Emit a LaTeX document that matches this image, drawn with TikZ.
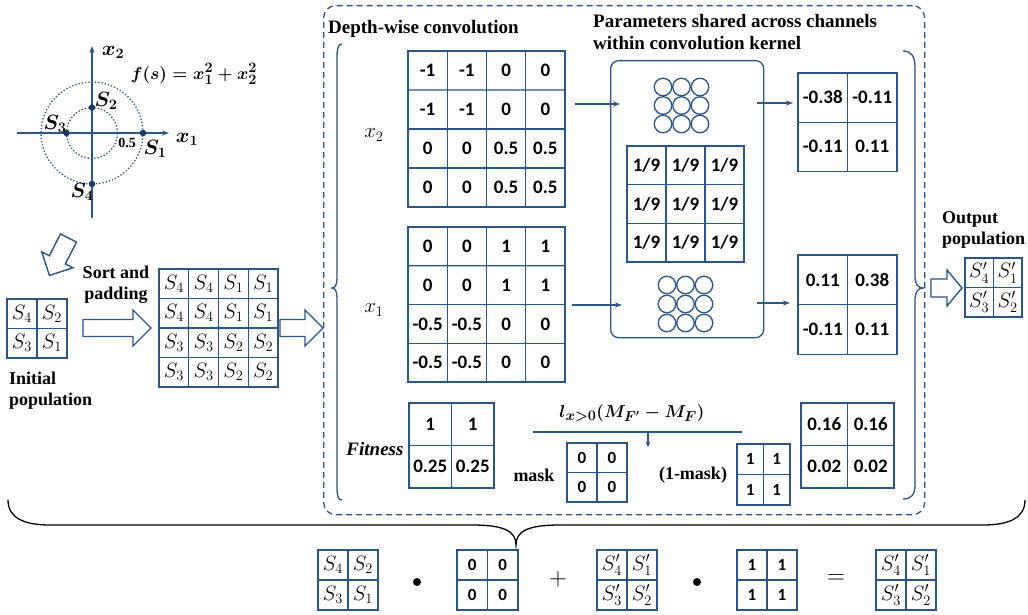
\documentclass[tikz,border=0pt]{standalone}
\usepackage{fontspec}
\setmainfont{Liberation Serif}
\newfontfamily\numfont{Carlito}
\usetikzlibrary{arrows.meta,matrix,calc}
\definecolor{bl}{RGB}{46,84,130}
\definecolor{dotc}{RGB}{31,56,100}
\newcommand\blockarrow[7]{% x, y, angle, length, shaft half, head half, head len
  \begin{scope}[shift={(#1,#2)}, rotate=#3]
    \draw[bl, line width=1.4pt, line join=miter, fill=white]
      (0,-#5) -- (#4-#7,-#5) -- (#4-#7,-#6) -- (#4,0) -- (#4-#7,#6) -- (#4-#7,#5) -- (0,#5) -- cycle;
  \end{scope}}
\newcommand\gridlines[3]{%
  \draw[bline] (#1.north west) rectangle (#1.south east);
  \foreach \c in {2,...,#3} {\draw[bline] (#1-1-\c.north west) -- (#1-#2-\c.south west);}
  \foreach \r in {2,...,#2} {\draw[bline] (#1-\r-1.north west) -- (#1-\r-#3.north east);}
}
\begin{document}
\begin{tikzpicture}[x=1pt,y=-1pt,
  bline/.style={draw=bl, line width=1.3pt},
  arr/.style={bl, line width=1.2pt, -{Stealth[length=7pt,width=5pt]}},
  grid/.style={matrix of nodes, ampersand replacement=\&, anchor=north west,
     inner sep=0pt, outer sep=0pt, column sep=0pt, row sep=0pt,
     nodes={inner sep=0pt, outer sep=0pt}},
  numL/.style={font=\numfont\bfseries\fontsize{19}{19}\selectfont},
  numS/.style={font=\numfont\bfseries\fontsize{17}{17}\selectfont},
  mth/.style={font=\fontsize{21}{21}\selectfont},
  lab/.style={font=\bfseries\fontsize{18}{21}\selectfont, inner sep=0pt},
  title/.style={font=\bfseries\fontsize{19}{22}\selectfont, inner sep=0pt},
  dotn/.style={circle, fill=dotc, inner sep=0pt, minimum size=6.5pt},
  blab/.style={font=\fontsize{21}{21}\selectfont\boldmath, inner sep=0pt},
]
\fill[white] (0,0) rectangle (1028,615);
\useasboundingbox (0,0) rectangle (1028,615);

% ---------- circle diagram ----------
\coordinate (o) at (92,133);
\coordinate (xs) at (17,133);
\coordinate (xe) at (169,133);
\coordinate (ys) at (92,218);
\coordinate (ye) at (92,46);
\draw[arr] (xs) -- (xe);
\draw[arr] (ys) -- (ye);
\draw[bl, line width=1.3pt, dotted] (o) circle[radius=51pt];
\draw[bl, line width=1.3pt, dotted] (o) circle[radius=25.5pt];
\node[dotn] (s1) at (143,133) {};
\node[dotn] (s2) at (92,107.5) {};
\node[dotn] (s3) at (66.5,133) {};
\node[dotn] (s4) at (92,184) {};
\node[blab] (lx2) at (113,52) {$x_2$};
\node[blab] (lx1) at (187,139) {$x_1$};
\node[font=\fontsize{19}{19}\selectfont\boldmath, inner sep=0pt] (lf) at (194,74) {$f(s)=x_1^2+x_2^2$};
\node[blab] (ls2) at (106,101) {$S_2$};
\node[blab] (ls3) at (55,124) {$S_3$};
\node[blab] (ls1) at (155,149) {$S_1$};
\node[blab] (ls4) at (82,192) {$S_4$};
\node[font=\bfseries\fontsize{14}{14}\selectfont, inner sep=0pt] (l05) at (127,143) {0.5};

% ---------- left part ----------
\blockarrow{68.5}{238}{243}{42}{9}{17.5}{17.5}
\matrix (init) [grid, nodes={minimum width=30pt, minimum height=29.5pt, mth}] at (7,299)
 {$S_4$ \& $S_2$ \\ $S_3$ \& $S_1$ \\};
\gridlines{init}{2}{2}
\node[lab, align=left, anchor=west] (linit) at (9,391) {Initial\\population};
\node[lab, align=center] (lsort) at (116,285) {Sort and\\padding};
\blockarrow{83}{328}{0}{68}{8.5}{18}{18}
\matrix (pad) [grid, nodes={minimum width=29.75pt, minimum height=29.5pt, mth}] at (159,269)
 {$S_4$ \& $S_4$ \& $S_1$ \& $S_1$ \\
  $S_4$ \& $S_4$ \& $S_1$ \& $S_1$ \\
  $S_3$ \& $S_3$ \& $S_2$ \& $S_2$ \\
  $S_3$ \& $S_3$ \& $S_2$ \& $S_2$ \\};
\gridlines{pad}{4}{4}
\blockarrow{280}{328}{0}{43}{8.5}{18}{18}

% ---------- dashed box ----------
\node[draw=bl, line width=1.3pt, dash pattern=on 6pt off 4pt, rounded corners=12pt,
      minimum width=601pt, minimum height=509pt, anchor=north west, inner sep=0pt] (dbox) at (323,5) {};
\node[title, anchor=west] (tdepth) at (328,29) {Depth-wise convolution};
\node[title, anchor=west, align=left] (tparam) at (593,32) {Parameters shared across channels\\within convolution kernel};

% braces
\draw[bline] (342,44) .. controls (338,44) and (337,49) .. (337,58) -- (337,278)
  .. controls (337,285) and (335,288) .. (332,288)
  .. controls (335,288) and (337,291) .. (337,298) -- (337,487)
  .. controls (337,496) and (338,500) .. (342,500);
\draw[bline] (903,51) .. controls (911,51) and (915,56) .. (915,67) -- (915,276)
  .. controls (915,284) and (918,288) .. (923,288)
  .. controls (918,288) and (915,292) .. (915,300) -- (915,485)
  .. controls (915,495) and (911,499) .. (903,499);

% matrices x2, x1
\node[font=\fontsize{22}{22}\selectfont, inner sep=0pt] (lmx2) at (374,135) {$x_2$};
\node[font=\fontsize{22}{22}\selectfont, inner sep=0pt] (lmx1) at (374,310) {$x_1$};
\matrix (x2m) [grid, nodes={minimum width=39.25pt, minimum height=39pt, numL}] at (408,51)
 {-1 \& -1 \& 0 \& 0 \\ -1 \& -1 \& 0 \& 0 \\ 0 \& 0 \& 0.5 \& 0.5 \\ 0 \& 0 \& 0.5 \& 0.5 \\};
\gridlines{x2m}{4}{4}
\matrix (x1m) [grid, nodes={minimum width=39.25pt, minimum height=38.75pt, numL}] at (408,227)
 {0 \& 0 \& 1 \& 1 \\ 0 \& 0 \& 1 \& 1 \\ -0.5 \& -0.5 \& 0 \& 0 \\ -0.5 \& -0.5 \& 0 \& 0 \\};
\gridlines{x1m}{4}{4}

% kernel box
\node[draw=bl, line width=1.3pt, rounded corners=8pt, minimum width=153pt, minimum height=277pt,
      anchor=north west, inner sep=0pt] (kbox) at (610,60) {};
\foreach \i in {0,1,2} \foreach \j in {0,1,2} {
  \node[circle, draw=bl, line width=1.3pt, minimum size=17.5pt, inner sep=0pt] (ct\i\j) at (663+18.5*\i,87+18.5*\j) {};
  \node[circle, draw=bl, line width=1.3pt, minimum size=17.5pt, inner sep=0pt] (cb\i\j) at (667+18.5*\i,285+19*\j) {};
}
\matrix (kern) [grid, nodes={minimum width=39pt, minimum height=38.7pt, numL}] at (627,146)
 {1/9 \& 1/9 \& 1/9 \\ 1/9 \& 1/9 \& 1/9 \\ 1/9 \& 1/9 \& 1/9 \\};
\gridlines{kern}{3}{3}

\coordinate (a1s) at (575,104); \coordinate (a1e) at (620,104);
\coordinate (a2s) at (572,305); \coordinate (a2e) at (622,305);
\coordinate (a3s) at (757,103); \coordinate (a3e) at (793,103);
\coordinate (a4s) at (757,303); \coordinate (a4e) at (790,303);
\draw[arr] (a1s) -- (a1e);
\draw[arr] (a2s) -- (a2e);
\draw[arr] (a3s) -- (a3e);
\draw[arr] (a4s) -- (a4e);

\matrix (outA) [grid, nodes={minimum width=49.5pt, minimum height=49pt, numL}] at (798,73)
 {-0.38 \& -0.11 \\ -0.11 \& 0.11 \\};
\gridlines{outA}{2}{2}
\matrix (outB) [grid, nodes={minimum width=49.5pt, minimum height=49.5pt, numL}] at (798,255)
 {0.11 \& 0.38 \\ -0.11 \& 0.11 \\};
\gridlines{outB}{2}{2}

% fitness row
\node[font=\bfseries\itshape\fontsize{19}{19}\selectfont, inner sep=0pt] (lfit) at (375,449) {Fitness};
\matrix (fit) [grid, nodes={minimum width=42.5pt, minimum height=42.5pt, numL}] at (409,403)
 {1 \& 1 \\ 0.25 \& 0.25 \\};
\gridlines{fit}{2}{2}
\node[font=\fontsize{19}{19}\selectfont\boldmath, inner sep=0pt] (lform) at (632,413) {$l_{x>0}(M_{F'}-M_F)$};
\coordinate (fl1) at (533,432); \coordinate (fl2) at (742,432);
\draw[bl, line width=1.3pt] (fl1) -- (fl2);
\coordinate (fa1) at (648,432); \coordinate (fa2) at (648,447);
\draw[bl, line width=1.2pt, -{Stealth[length=5pt,width=4.5pt]}] (fa1) -- (fa2);
\node[lab] (lmask) at (534,475) {mask};
\matrix (mask) [grid, nodes={minimum width=30pt, minimum height=29.5pt, numS}] at (567,443)
 {0 \& 0 \\ 0 \& 0 \\};
\gridlines{mask}{2}{2}
\node[lab] (linv) at (693,475) {(1-mask)};
\matrix (inv) [grid, nodes={minimum width=26.5pt, minimum height=30.5pt, numS}] at (737,444)
 {1 \& 1 \\ 1 \& 1 \\};
\gridlines{inv}{2}{2}
\matrix (res) [grid, nodes={minimum width=46.5pt, minimum height=42.5pt, numL}] at (801,403)
 {0.16 \& 0.16 \\ 0.02 \& 0.02 \\};
\gridlines{res}{2}{2}

% output population
\blockarrow{931}{288}{0}{31}{9}{18}{15}
\node[lab, align=left, anchor=west] (lout) at (942,230) {Output\\population};
\matrix (outp) [grid, nodes={minimum width=28.5pt, minimum height=29.5pt, mth}] at (965,258)
 {$S'_4$ \& $S'_1$ \\ $S'_3$ \& $S'_2$ \\};
\gridlines{outp}{2}{2}

% ---------- bottom brace ----------
\draw[black, line width=1.3pt] (8,500) .. controls (8,518) and (24,525) .. (50,525) -- (472,525)
  .. controls (504,525) and (516,531) .. (516,545)
  .. controls (516,531) and (528,525) .. (560,525) -- (983,525)
  .. controls (1009,525) and (1025,518) .. (1025,500);

% ---------- bottom equation ----------
\matrix (b1) [grid, nodes={minimum width=30pt, minimum height=30pt, mth}] at (318,550)
 {$S_4$ \& $S_2$ \\ $S_3$ \& $S_1$ \\};
\gridlines{b1}{2}{2}
\node[circle, fill=black, inner sep=0pt, minimum size=8pt] (dt1) at (417,582) {};
\matrix (b2) [grid, nodes={minimum width=30.5pt, minimum height=30pt, numS}] at (457,550)
 {0 \& 0 \\ 0 \& 0 \\};
\gridlines{b2}{2}{2}
\node[font=\fontsize{28}{28}\selectfont, inner sep=0pt] (plus) at (558,579) {$+$};
\matrix (b3) [grid, nodes={minimum width=30pt, minimum height=30pt, mth}] at (597,550)
 {$S'_4$ \& $S'_1$ \\ $S'_3$ \& $S'_2$ \\};
\gridlines{b3}{2}{2}
\node[circle, fill=black, inner sep=0pt, minimum size=8pt] (dt2) at (697,582) {};
\matrix (b4) [grid, nodes={minimum width=30pt, minimum height=30pt, numS}] at (737,550)
 {1 \& 1 \\ 1 \& 1 \\};
\gridlines{b4}{2}{2}
\node[font=\fontsize{28}{28}\selectfont, inner sep=0pt] (eq) at (836,579) {$=$};
\matrix (b5) [grid, nodes={minimum width=30pt, minimum height=30pt, mth}] at (876,550)
 {$S'_4$ \& $S'_1$ \\ $S'_3$ \& $S'_2$ \\};
\gridlines{b5}{2}{2}
\end{tikzpicture}
\end{document}
